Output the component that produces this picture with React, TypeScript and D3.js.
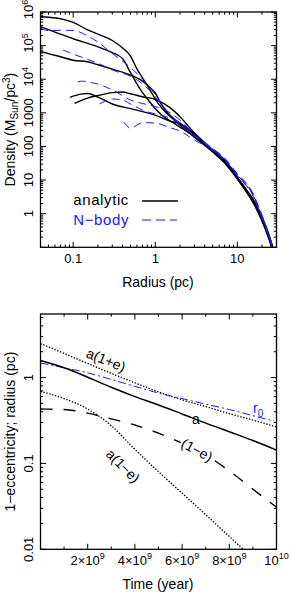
import * as d3 from "d3";

type Pt = [number, number];

// ---------- top panel: density profiles (radius pc, density Msun/pc^3)
const analytic1: Pt[] = [
  [0.04, 7.25e5], [0.05, 6.95e5], [0.07, 6.3e5], [0.1, 4.9e5], [0.15, 2.95e5], [0.2, 2.2e5],
  [0.3, 1.42e5], [0.4, 8.5e4], [0.5, 4.9e4], [0.6, 2.0e4], [0.7, 1.09e4], [0.85, 5.1e3],
  [1, 2.58e3], [1.2, 1.39e3], [1.5, 800], [2, 497], [3, 218], [5, 78], [7, 39], [10, 12.3],
  [13, 5.0], [15, 3.1], [20, 0.79], [25, 0.19], [30, 0.04],
];
const analytic2: Pt[] = [
  [0.04, 3.65e5], [0.05, 3.0e5], [0.07, 2.2e5], [0.1, 1.6e5], [0.15, 1.16e5], [0.2, 9.2e4],
  [0.3, 6.2e4], [0.4, 4.1e4], [0.5, 1.57e4], [0.6, 7.2e3], [0.7, 4.0e3], [0.85, 2.17e3],
  [1, 1.34e3], [1.2, 860], [1.5, 586], [2, 378], [3, 197], [5, 73], [7, 34], [10, 11.5],
  [13, 4.6], [15, 2.7], [20, 0.69], [25, 0.16], [30, 0.03],
];
const analytic3: Pt[] = [
  [0.04, 6.6e4], [0.05, 5.8e4], [0.07, 4.65e4], [0.1, 3.67e4], [0.15, 3.3e4], [0.2, 2.7e4],
  [0.3, 2.0e4], [0.5, 1.33e4], [0.7, 8.8e3], [0.85, 5.9e3], [1, 3.9e3], [1.2, 1.7e3],
  [1.5, 860], [2, 434], [3, 190], [5, 68], [7, 32], [10, 10.7], [13, 4.3], [15, 2.5],
  [20, 0.6], [25, 0.14], [30, 0.028],
];
const analytic4: Pt[] = [
  [0.092, 2.9e3], [0.1, 3.16e3], [0.15, 3.75e3], [0.2, 2.95e3], [0.3, 1.83e3], [0.5, 1.33e3],
  [0.7, 1.09e3], [1, 860], [1.5, 570], [2, 481], [3, 234], [5, 72], [7, 35], [10, 11],
  [13, 4.5], [15, 2.6], [20, 0.65], [25, 0.15], [30, 0.03],
];
const analytic5: Pt[] = [
  [0.104, 1.92e3], [0.15, 2.75e3], [0.2, 3.27e3], [0.3, 4.0e3], [0.4, 4.16e3], [0.5, 3.7e3],
  [0.7, 3.0e3], [1, 2.5e3], [1.5, 1.45e3], [2, 765], [3, 250], [5, 80], [7, 37], [10, 12],
  [13, 4.9], [15, 2.9], [20, 0.75], [25, 0.18], [30, 0.035],
];

const nbody1: Pt[] = [
  [0.04, 3.34e5], [0.05, 2.8e5], [0.07, 2.85e5], [0.1, 2.83e5], [0.15, 1.93e5], [0.2, 1.28e5],
  [0.3, 5.8e4], [0.5, 2.23e4], [0.7, 1.0e4], [1, 3.5e3], [1.5, 890], [2, 465], [3, 215],
  [5, 84], [7, 44], [10, 15], [13, 7.4], [15, 4.5], [17, 2.3], [20, 0.85], [24, 0.25],
  [27, 0.1], [30, 0.035],
];
const nbody2: Pt[] = [
  [0.075, 7.4e4], [0.1, 5.6e4], [0.15, 3.9e4], [0.2, 3.0e4], [0.3, 1.88e4], [0.5, 1.22e4],
  [0.7, 7.3e3], [1, 3.0e3], [1.5, 920], [2, 465], [3, 210], [5, 82], [7, 42], [10, 14],
  [13, 7.0], [15, 4.3], [17, 2.2], [20, 0.8], [24, 0.24], [27, 0.09], [30, 0.03],
];
const nbody3: Pt[] = [
  [0.114, 8.3e3], [0.13, 8.8e3], [0.15, 8.3e3], [0.2, 7.2e3], [0.3, 4.8e3], [0.5, 2.4e3],
  [0.7, 1.9e3], [1, 1.54e3], [1.5, 1.02e3], [2, 610], [3, 225], [5, 88], [7, 45], [10, 15.5],
  [13, 7.8], [15, 4.7], [17, 2.4], [20, 0.9], [24, 0.26], [27, 0.1], [30, 0.035],
];
const nbody4: Pt[] = [
  [0.21, 1.83e3], [0.3, 2.58e3], [0.4, 2.4e3], [0.5, 1.83e3], [0.7, 1.21e3], [1, 920],
  [1.5, 700], [2, 465], [3, 205], [5, 80], [7, 41], [10, 14], [13, 6.8], [15, 4.2], [17, 2.1],
  [20, 0.78], [24, 0.23], [27, 0.09], [30, 0.03],
];
const nbody5: Pt[] = [
  [0.415, 532], [0.5, 353], [0.6, 434], [0.7, 514], [1, 497], [1.5, 365], [2, 287], [3, 155],
  [5, 78], [7, 40], [10, 13.5], [13, 6.5], [15, 4.0], [17, 2.0], [20, 0.75], [24, 0.22],
  [27, 0.085], [30, 0.03],
];

const analyticCurves = [analytic1, analytic2, analytic3, analytic4, analytic5];
const nbodyCurves = [nbody1, nbody2, nbody3, nbody4, nbody5];

// ---------- bottom panel: orbit evolution (time in years)
const timeYears = [0, 1e9, 2e9, 3e9, 4e9, 5e9, 6e9, 7e9, 8e9, 9e9, 1e10];
const apoRadius = [2.49, 1.91, 1.46, 1.12, 0.87, 0.68, 0.55, 0.46, 0.38, 0.32, 0.266];
const semiMajor = [1.58, 1.3, 1.01, 0.77, 0.6, 0.48, 0.377, 0.295, 0.234, 0.185, 0.143];
const oneMinusE = [0.43, 0.425, 0.385, 0.33, 0.28, 0.225, 0.172, 0.125, 0.082, 0.05, 0.031];
const periRadius = [0.69, 0.57, 0.43, 0.275, 0.146, 0.08, 0.045, 0.0253, 0.0141, 0.0079, 0.0045];
const r0Time = [0, 1e9, 2e9, 3e9, 4e9, 5e9, 6e9, 7e9, 8e9, 9e9, 9.9e9];
const r0Radius = [1.48, 1.3, 1.135, 0.95, 0.79, 0.66, 0.57, 0.49, 0.425, 0.36, 0.31];

const FONT = "'Liberation Sans', Arial, Helvetica, sans-serif";
const BLUE = "#1a1aff";

const top = { l: 40.5, r: 276.5, t: 12, b: 247.3 };
const bot = { l: 40.5, r: 276.5, t: 314, b: 549.3 };

function logTicks(lo: number, hi: number): [number, boolean][] {
  const out: [number, boolean][] = [];
  for (let d = Math.floor(Math.log10(lo)); d <= Math.ceil(Math.log10(hi)); d++) {
    for (let m = 1; m <= 9; m++) {
      const v = m * Math.pow(10, d);
      if (v >= lo * 0.9999 && v <= hi * 1.0001) out.push([v, m === 1]);
    }
  }
  return out;
}

function Ticks({ box, xs, ys, sx, sy }: {
  box: { l: number; r: number; t: number; b: number };
  xs: [number, boolean][];
  ys: [number, boolean][];
  sx: (v: number) => number;
  sy: (v: number) => number;
}) {
  const segs: string[] = [];
  for (const [v, major] of xs) {
    const x = sx(v);
    const len = major ? 5.5 : 2.7;
    segs.push(`M${x},${box.b}V${box.b - len}M${x},${box.t}V${box.t + len}`);
  }
  for (const [v, major] of ys) {
    const y = sy(v);
    const len = major ? 5.5 : 2.7;
    segs.push(`M${box.l},${y}H${box.l + len}M${box.r},${y}H${box.r - len}`);
  }
  return (
    <g>
      <path d={segs.join("")} stroke="#000" strokeWidth={1} fill="none" />
      <rect x={box.l} y={box.t} width={box.r - box.l} height={box.b - box.t} fill="none" stroke="#000" strokeWidth={1.3} />
    </g>
  );
}

export default function App() {
  const xR = d3.scaleLog().domain([0.04, 30]).range([top.l, top.r]);
  const yR = d3.scaleLog().domain([0.1, 1e6]).range([top.b, top.t]);
  const xT = d3.scaleLinear().domain([0, 1e10]).range([bot.l, bot.r]);
  const yT = d3.scaleLog().domain([0.01, 5.5]).range([bot.b, bot.t]);

  const lineTop = d3.line<Pt>().x((d) => xR(d[0])).y((d) => yR(d[1])).curve(d3.curveMonotoneX);
  const lineBot = d3.line<Pt>().x((d) => xT(d[0])).y((d) => yT(d[1])).curve(d3.curveMonotoneX);
  const series = (vals: number[], ts: number[] = timeYears): Pt[] => ts.map((t, i) => [t, vals[i]]);

  const xTopTicks = logTicks(0.04, 30);
  const yTopTicks = logTicks(0.1, 1e6);
  const xBotTicks: [number, boolean][] = d3.range(0, 11).map((i) => [i * 1e9, i % 2 === 0]);
  const yBotTicks = logTicks(0.01, 5.5);

  const yTopLabels: [number, string, string][] = [
    [1, "1", ""], [10, "10", ""], [100, "100", ""], [1000, "1000", ""],
    [1e4, "10", "4"], [1e5, "10", "5"], [1e6, "10", "6"],
  ];
  const xBotLabels: [number, string, string][] = [
    [2e9, "2×10", "9"], [4e9, "4×10", "9"], [6e9, "6×10", "9"], [8e9, "8×10", "9"], [1e10, "10", "10"],
  ];

  return (
    <svg width={291} height={594} style={{ position: "absolute", left: 0, top: 0, background: "#fff" }} fontFamily={FONT}>
      <defs>
        <clipPath id="clipTop">
          <rect x={top.l} y={top.t} width={top.r - top.l} height={top.b - top.t} />
        </clipPath>
        <clipPath id="clipBot">
          <rect x={bot.l} y={bot.t} width={bot.r - bot.l} height={bot.b - bot.t} />
        </clipPath>
      </defs>

      {/* ---------- top panel ---------- */}
      <g clipPath="url(#clipTop)" fill="none">
        {analyticCurves.map((c, i) => (
          <path key={"a" + i} d={lineTop(c) ?? ""} stroke="#000" strokeWidth={1.4} />
        ))}
        {nbodyCurves.map((c, i) => (
          <path key={"n" + i} d={lineTop(c) ?? ""} stroke={BLUE} strokeWidth={1} strokeDasharray="8,5" />
        ))}
      </g>
      <Ticks box={top} xs={xTopTicks} ys={yTopTicks} sx={xR} sy={yR} />

      {[0.1, 1, 10].map((v) => (
        <text key={v} x={xR(v)} y={262.5} fontSize={13} textAnchor="middle">{String(v)}</text>
      ))}
      {yTopLabels.map(([v, base, sup]) => (
        <text key={v} transform={`translate(33,${yR(v)}) rotate(-90)`} fontSize={13}
          textAnchor={sup ? "start" : "middle"} x={sup ? -7.2 : 0}>
          {base}
          {sup && <tspan fontSize={9} dy={-5}>{sup}</tspan>}
        </text>
      ))}
      <text x={158} y={287} fontSize={14} textAnchor="middle">Radius (pc)</text>
      <text transform={`translate(15,${(top.t + top.b) / 2}) rotate(-90)`} fontSize={14} textAnchor="middle">
        Density (M<tspan fontSize={10} dy={3}>Sun</tspan><tspan dy={-3}>/pc</tspan>
        <tspan fontSize={10} dy={-5}>3</tspan><tspan dy={5}>)</tspan>
      </text>

      {/* legend */}
      <text x={73.3} y={205} fontSize={15} letterSpacing={0.6}>analytic</text>
      <line x1={142} x2={178} y1={201} y2={201} stroke="#000" strokeWidth={1.4} />
      <text x={73.3} y={225} fontSize={15} letterSpacing={0.6} fill={BLUE}>N−body</text>
      <line x1={142} x2={177} y1={220} y2={220} stroke={BLUE} strokeWidth={1} strokeDasharray="9,5" />

      {/* ---------- bottom panel ---------- */}
      <g clipPath="url(#clipBot)" fill="none">
        <path d={lineBot(series(apoRadius)) ?? ""} stroke="#000" strokeWidth={1.3} strokeDasharray="1.4,1.6" />
        <path d={lineBot(series(r0Radius, r0Time)) ?? ""} stroke={BLUE} strokeWidth={1} strokeDasharray="8,3,2,3" />
        <path d={lineBot(series(semiMajor)) ?? ""} stroke="#000" strokeWidth={1.5} />
        <path d={lineBot(series(oneMinusE)) ?? ""} stroke="#000" strokeWidth={1.4} strokeDasharray="12,11" />
        <path d={lineBot(series(periRadius)) ?? ""} stroke="#000" strokeWidth={1.3} strokeDasharray="1.4,1.6" />
      </g>
      <Ticks box={bot} xs={xBotTicks} ys={yBotTicks} sx={xT} sy={yT} />

      {xBotLabels.map(([v, base, sup]) => (
        <text key={v} x={xT(v)} y={565} fontSize={13} textAnchor="middle">
          {base}
          <tspan fontSize={9} dy={-6}>{sup}</tspan>
        </text>
      ))}
      {[[1, "1"], [0.1, "0.1"], [0.01, "0.01"]].map(([v, s]) => (
        <text key={s as string} transform={`translate(33,${yT(v as number)}) rotate(-90)`} fontSize={13} textAnchor="middle">
          {s as string}
        </text>
      ))}
      <text x={158} y={589} fontSize={14} textAnchor="middle">Time (year)</text>
      <text transform={`translate(15,${(bot.t + bot.b) / 2}) rotate(-90)`} fontSize={14} textAnchor="middle">
        1−eccentricity; radius (pc)
      </text>

      {/* curve labels */}
      <text transform="translate(106,360) rotate(22)" fontSize={14} textAnchor="middle" dy="0.35em">a(1+e)</text>
      <text x={196} y={424} fontSize={14} textAnchor="middle">a</text>
      <text x={253} y={413} fontSize={14} fill={BLUE}>
        r<tspan fontSize={10} dy={4}>0</tspan>
      </text>
      <text transform="translate(197,450) rotate(28)" fontSize={14} textAnchor="middle" dy="0.35em"
        stroke="#fff" strokeWidth={4} paintOrder="stroke">(1−e)</text>
      <text transform="translate(123,466) rotate(45)" fontSize={14} textAnchor="middle" dy="0.35em">a(1−e)</text>
    </svg>
  );
}
